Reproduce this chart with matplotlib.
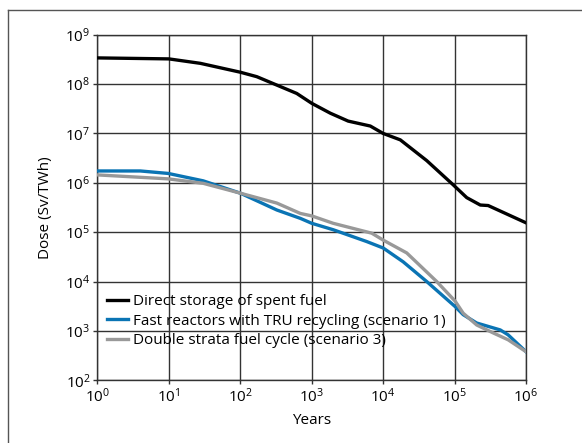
import matplotlib.pyplot as plt
from matplotlib.lines import Line2D
import numpy as np

plt.rcParams['font.family'] = ['Open Sans', 'DejaVu Sans']

# log10(years) and log10(dose)
direct_x = [0.0, 1.0, 1.44, 2.0, 2.23, 2.51, 2.79, 3.0, 3.26, 3.51, 3.82, 4.0, 4.24, 4.61, 4.98, 5.17, 5.36, 5.47, 6.0]
direct_y = [8.53, 8.51, 8.42, 8.24, 8.15, 7.98, 7.81, 7.61, 7.41, 7.25, 7.15, 7.0, 6.87, 6.45, 5.96, 5.70, 5.55, 5.54, 5.19]

fast_x = [0.0, 0.6, 0.99, 1.48, 2.0, 2.51, 2.84, 3.0, 3.3, 3.77, 4.0, 4.28, 4.61, 5.01, 5.12, 5.31, 5.64, 5.75, 6.0]
fast_y = [6.24, 6.24, 6.19, 6.04, 5.79, 5.45, 5.28, 5.18, 5.05, 4.81, 4.68, 4.40, 4.0, 3.49, 3.33, 3.16, 3.02, 2.92, 2.58]

strata_x = [0.0, 0.99, 1.48, 2.0, 2.51, 2.84, 3.0, 3.3, 3.84, 4.0, 4.33, 4.75, 5.01, 5.12, 5.31, 5.54, 5.75, 6.0]
strata_y = [6.16, 6.08, 5.99, 5.79, 5.59, 5.38, 5.33, 5.18, 4.98, 4.84, 4.58, 4.0, 3.60, 3.36, 3.12, 2.96, 2.82, 2.58]

labels = ['Direct storage of spent fuel',
          'Fast reactors with TRU recycling (scenario 1)',
          'Double strata fuel cycle (scenario 3)']
colors = ['#000000', '#0a74b4', '#999999']

fig = plt.figure(figsize=(5.82, 4.43), dpi=100)
ax = fig.add_axes([97.5/582, 1-380.3/443, (526-97.5)/582, (380.3-34.7)/443])

for xs, ys, c in [(direct_x, direct_y, colors[0]), (fast_x, fast_y, colors[1]), (strata_x, strata_y, colors[2])]:
    ax.plot(10**np.array(xs), 10**np.array(ys), color=c, lw=2.4, solid_joinstyle='round', zorder=3)

ax.set_xscale('log')
ax.set_yscale('log')
ax.set_xlim(1, 1e6)
ax.set_ylim(1e2, 1e9)
ax.set_xticks([10**i for i in range(7)])
ax.set_yticks([10**i for i in range(2, 10)])
ax.set_xticklabels([r'$\mathregular{10^{%d}}$' % i for i in range(7)])
ax.set_yticklabels([r'$\mathregular{10^{%d}}$' % i for i in range(2, 10)])
ax.minorticks_off()
ax.tick_params(direction='out', length=3, width=1, color='#333333', labelsize=11, pad=2)
ax.grid(True, color='#333333', lw=1)
for s in ax.spines.values():
    s.set_color('#333333')
    s.set_linewidth(1)

ax.set_xlabel('Years', fontsize=11, labelpad=5)
ax.set_ylabel('Dose (Sv/TWh)', fontsize=11, labelpad=9)

handles = [Line2D([], [], color=c, lw=2.4) for c in colors]
leg = ax.legend(handles, labels, loc='upper left', bbox_to_anchor=(0.0, 0.276), frameon=False,
                fontsize=11, handlelength=1.4, handletextpad=0.3, labelspacing=0.3, borderaxespad=0.2)

# outer frame lines (top and left)
fig.add_artist(Line2D([8/582, 1], [1-9.5/443, 1-9.5/443], color='#555555', lw=1))
fig.add_artist(Line2D([8/582, 8/582], [0, 1-9.5/443], color='#555555', lw=1))

fig.savefig('out.png', dpi=100)
